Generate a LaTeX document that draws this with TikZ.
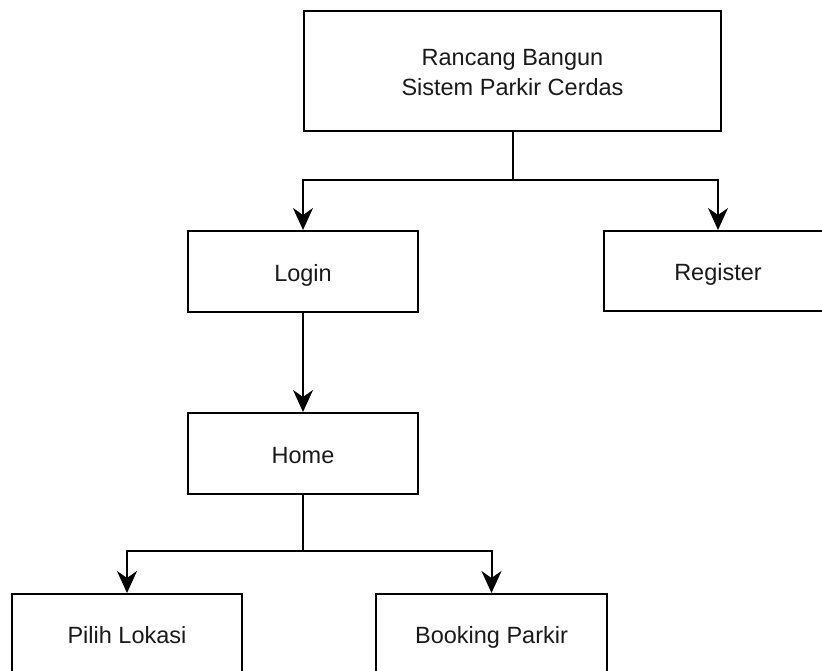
\documentclass[tikz,border=0pt]{standalone}
\usepackage{fontspec}
\setmainfont{Liberation Sans}
\usetikzlibrary{arrows.meta}
\tikzset{
  box/.style={draw=black, line width=2pt, inner sep=0pt, align=center,
    font=\fontsize{23.5}{30}\selectfont, text=black!90},
  single/.style={box, text height=20pt, text depth=1pt},
  link/.style={draw=black, line width=2pt,
    -{Stealth[length=22pt, width=20pt, inset=7pt]}}
}
\begin{document}
\begin{tikzpicture}[x=1pt, y=-1pt]
  \useasboundingbox (0,0) rectangle (822,671);
  % title block
  \node[box, text height=50pt, minimum width=417pt, minimum height=120pt] (top) at (512.5,71)
    {Rancang Bangun\\ Sistem Parkir Cerdas};
  % first level
  \node[single, minimum width=230pt, minimum height=81pt] (login) at (303,271.5) {Login};
  \node[single, minimum width=228pt, minimum height=80pt] (register) at (718,271) {Register};
  % second level
  \node[single, minimum width=230pt, minimum height=81pt] (home) at (303,453.5) {Home};
  % third level
  \node[single, minimum width=230pt, minimum height=80pt] (pilih) at (127,634) {Pilih Lokasi};
  \node[single, minimum width=231pt, minimum height=80pt] (booking) at (491.5,634) {Booking Parkir};
  % connectors
  \draw[link] (top.south) -- ++(0,48) -| (login.north);
  \draw[link] (top.south) -- ++(0,48) -| (register.north);
  \draw[link] (login.south) -- (home.north);
  \draw[link] (home.south) -- ++(0,56) -| (pilih.north);
  \draw[link] (home.south) -- ++(0,56) -| (booking.north);
\end{tikzpicture}
\end{document}
